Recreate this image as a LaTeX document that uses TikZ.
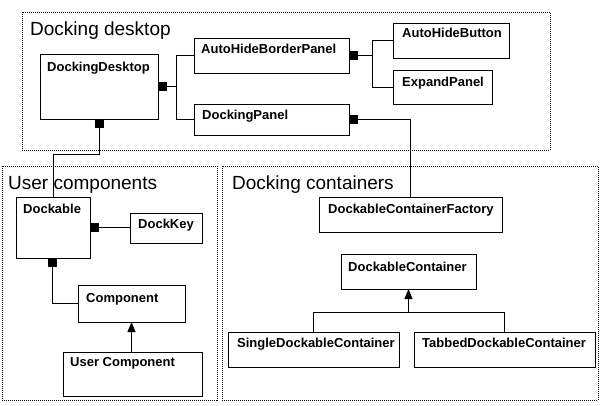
\documentclass[tikz,border=0pt]{standalone}
\usepackage{fontspec}
\setmainfont{Liberation Sans}
\usetikzlibrary{calc,arrows.meta}
\newcommand\umlcls[8]{%
  \node[cls, minimum width={#4-#2}, minimum height={#5-#3}, anchor=north west] (#1) at (#2,#3) {};
  \node[lbl, anchor=base west] (#1-t) at ($(#1.north west)+(#7,#8)$) {#6};}
\newcommand\grp[5]{%
  \node[grpbox, minimum width={#4-#2}, minimum height={#5-#3}, anchor=north west] (#1) at (#2,#3) {};}
\begin{document}
\begin{tikzpicture}[x=1pt,y=-1pt,
  cls/.style={draw=black, line width=0.9pt, inner sep=0pt, outer sep=0pt, fill=white},
  grpbox/.style={draw=black, line width=0.7pt, dash pattern=on 1pt off 1pt, inner sep=0pt, outer sep=0pt},
  lbl/.style={inner sep=0pt, font=\fontsize{13}{15}\selectfont\bfseries},
  ttl/.style={inner sep=0pt, font=\fontsize{19}{22}\selectfont},
  sq/.style={fill=black, inner sep=0pt, outer sep=0pt, minimum size=9pt},
  conn/.style={draw=black, line width=0.9pt},
  inh/.style={conn, -{Triangle[length=10pt,width=8pt]}}]
\useasboundingbox (0,0) rectangle (600,405);
\fill[white] (0,0) rectangle (600,405);
% groups
\grp{gdesk}{22}{12}{550}{150}
\grp{guser}{2}{166}{217}{400}
\grp{gcont}{222}{166}{598}{400}
\node[ttl, anchor=base west] (t1) at (30,35) {Docking desktop};
\node[ttl, anchor=base west] (t2) at (8,189) {User components};
\node[ttl, anchor=base west] (t3) at (232,189) {Docking containers};
% classes
\umlcls{dd}{40}{54}{158}{119}{DockingDesktop}{7}{17}
\umlcls{ahbp}{194}{38}{349}{73}{AutoHideBorderPanel}{7}{15}
\umlcls{dp}{194}{104}{349}{135}{DockingPanel}{8}{15}
\umlcls{ahb}{393}{23}{509}{58}{AutoHideButton}{9}{14}
\umlcls{ep}{393}{70}{492}{104}{ExpandPanel}{9}{16}
\umlcls{dock}{16}{197}{90}{258}{Dockable}{7}{16}
\umlcls{dk}{130}{213}{202}{243}{DockKey}{8}{15}
\umlcls{comp}{78}{285}{185}{322}{Component}{8}{17}
\umlcls{uc}{63}{352}{202}{396}{User Component}{7}{14}
\umlcls{dcf}{319}{197}{502}{232}{DockableContainerFactory}{9}{16}
\umlcls{dc}{341}{254}{476}{289}{DockableContainer}{7}{17}
\umlcls{sdc}{228}{332}{399}{367}{SingleDockableContainer}{9}{15}
\umlcls{tdc}{414}{332}{595}{367}{TabbedDockableContainer}{8}{15}
% composition squares
\node[sq, anchor=west] (s1) at (dd.east) {};
\node[sq, anchor=west] (s2) at (ahbp.east) {};
\node[sq, anchor=west] (s3) at (dp.east) {};
\node[sq, anchor=north] (s4) at ([xshift=59pt]dd.south west) {};
\node[sq, anchor=west] (s5) at (dock.east) {};
\node[sq, anchor=north] (s6) at ([xshift=-1pt]dock.south) {};
% connectors
\draw[conn] (s1.east) -- ++(9,0) coordinate (j1) |- (ahbp.west);
\draw[conn] (j1) |- (dp.west);
\draw[conn] (s2.east) -- ++(14,0) coordinate (j2) |- (ahb.west);
\draw[conn] (j2) |- (ep.west);
\draw[conn] (s3.east) -| (dcf.north);
\draw[conn] (s4.south) -- ++(0,26) -| (dock.north);
\draw[conn] (s5.east) -- (s5.east -| dk.west);
\draw[conn] (s6.south) |- (comp.west);
\draw[inh] (uc.north -| comp.south) -- (comp.south);
\draw[conn] (sdc.north) -- ++(0,-20) coordinate (b1) -| (tdc.north);
\draw[inh] (b1 -| dc.south) -- (dc.south);
\end{tikzpicture}
\end{document}
